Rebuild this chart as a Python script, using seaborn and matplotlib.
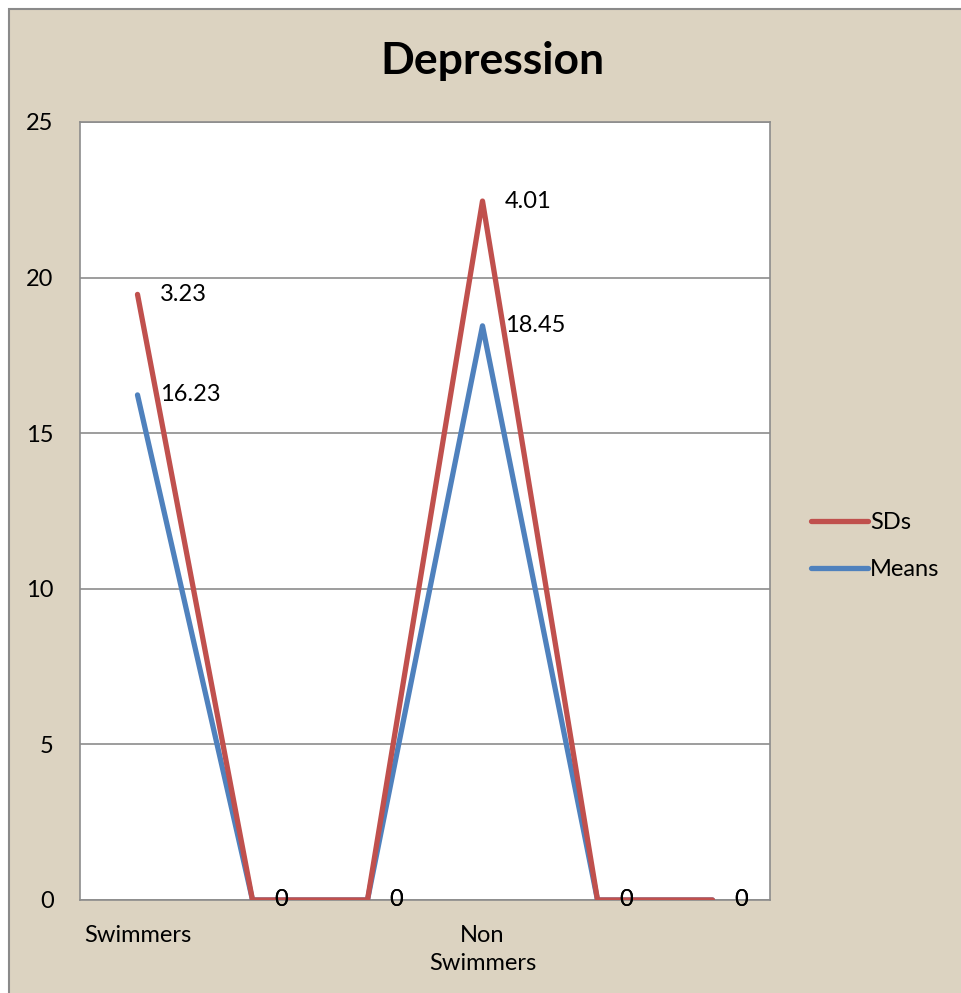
import matplotlib
matplotlib.use("Agg")
import matplotlib.pyplot as plt
import seaborn as sns
import pandas as pd
from matplotlib.patches import Rectangle

# === DATA ===
categories = ["Swimmers", "", "", "Non\nSwimmers", "", ""]
means = [16.23, 0, 0, 18.45, 0, 0]
sds = [3.23, 0, 0, 4.01, 0, 0]
y_ticks = [0, 5, 10, 15, 20, 25]

BG = "#dcd3c1"
RED = "#c0504d"
BLUE = "#4f81bd"
GRID = "#8c8c8c"
FS = 17

sns.set_theme(style="white")
plt.rcParams['font.family'] = ['Lato', 'DejaVu Sans']
plt.rcParams['text.color'] = 'black'

# stacked line chart: SDs sit on top of the means
df = pd.DataFrame({"pos": range(len(categories)), "Means": means, "SDs": sds})
df["SDs_top"] = df["Means"] + df["SDs"]

fig = plt.figure(figsize=(9.62, 9.93), dpi=100)
fig.patch.set_facecolor("white")
# chart area background, border runs off the right/bottom edge
fig.patches.append(Rectangle((9 / 962, -0.05), 1.05, 1.05 - 9 / 993, transform=fig.transFigure,
                             facecolor=BG, edgecolor="#8a8a8a", linewidth=1.5, zorder=-10))

ax = fig.add_axes([80 / 962, 93 / 993, 690 / 962, 778 / 993])
ax.set_facecolor("white")

sns.lineplot(data=df, x="pos", y="Means", ax=ax, color=BLUE, linewidth=3.8, label="Means", zorder=3)
sns.lineplot(data=df, x="pos", y="SDs_top", ax=ax, color=RED, linewidth=3.8, label="SDs", zorder=4)

# data labels to the right of each point
for i in range(len(categories)):
    ax.annotate(f"{means[i]:g}", (i, means[i]), xytext=(16, 0), textcoords="offset points",
                ha="left", va="center", fontsize=FS, color="black", zorder=6)
    ax.annotate(f"{sds[i]:g}", (i, df["SDs_top"][i]), xytext=(16, 0), textcoords="offset points",
                ha="left", va="center", fontsize=FS, color="black", zorder=6)

ax.set_xlim(-0.5, len(categories) - 0.5)
ax.set_ylim(0, 25)
ax.set_yticks(y_ticks)
ax.set_yticklabels([str(t) for t in y_ticks], fontsize=FS, color="black")
ax.set_xticks(range(len(categories)))
ax.set_xticklabels(categories, fontsize=FS, linespacing=1.4, va="top", color="black")
ax.tick_params(axis="y", length=0, pad=19)
ax.tick_params(axis="x", length=0, pad=18)
ax.set_xlabel("")
ax.set_ylabel("")
ax.yaxis.grid(True, color=GRID, linewidth=1.2)
ax.set_axisbelow(True)
for s in ax.spines.values():
    s.set_visible(True)
    s.set_color(GRID)
    s.set_linewidth(1.2)

handles, labels = ax.get_legend_handles_labels()
order = [labels.index("SDs"), labels.index("Means")]
leg = ax.legend([handles[k] for k in order], [labels[k] for k in order],
                loc="center left", bbox_to_anchor=(790 / 962, 1 - 546 / 993),
                bbox_transform=fig.transFigure, frameon=False, fontsize=FS,
                handlelength=2.4, handletextpad=0.1, labelspacing=1.1)
for t in leg.get_texts():
    t.set_color("black")

fig.text(492 / 962, 1 - 61 / 993, "Depression", ha="center", va="center",
         fontsize=32, fontweight="bold", color="black")

fig.savefig("out.png", dpi=100, facecolor=fig.get_facecolor())
